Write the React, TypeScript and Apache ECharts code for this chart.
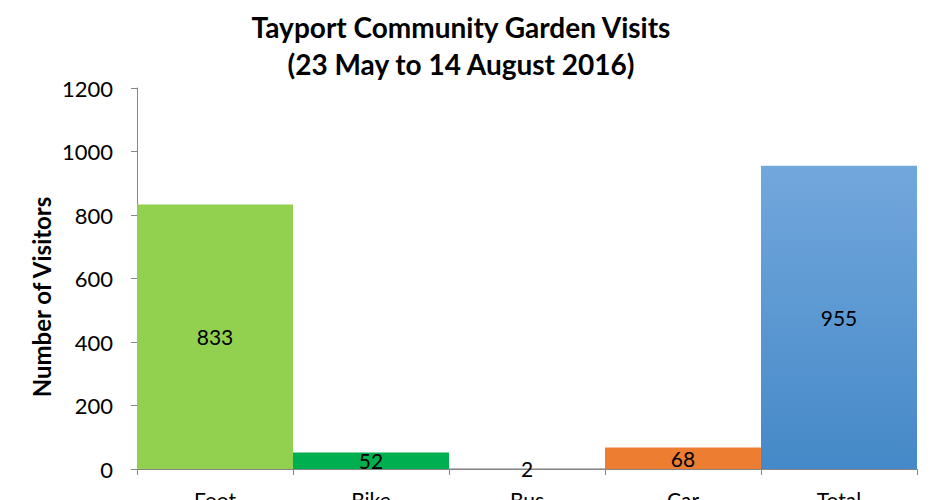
import React, { useEffect, useRef } from "react";
import * as echarts from "echarts";

const categories = ["Foot", "Bike", "Bus", "Car", "Total"];
const visitors = [833, 52, 2, 68, 955];
const yTicks = { min: 0, max: 1200, interval: 200 };
const titleLines = ["Tayport Community Garden Visits", "(23 May to 14 August 2016)"];
const yAxisTitle = "Number of Visitors";

const FONT = "Lato, 'Open Sans', sans-serif";

const barColors: any[] = [
  "#92D050",
  "#00B050",
  "#A5A5A5",
  "#ED7D31",
  new echarts.graphic.LinearGradient(0, 0, 0, 1, [
    { offset: 0, color: "#72A7DC" },
    { offset: 1, color: "#4589C8" },
  ]),
];

export default function App() {
  const ref = useRef<HTMLDivElement>(null);
  useEffect(() => {
    if (!ref.current) return;
    const chart = echarts.init(ref.current, null, { renderer: "svg" });
    chart.setOption({
      animation: false,
      backgroundColor: "#ffffff",
      title: {
        text: titleLines.join("\n"),
        left: 456,
        top: 3,
        textAlign: "center",
        textStyle: {
          fontFamily: FONT,
          fontSize: 28,
          fontWeight: "bold",
          color: "#000",
          lineHeight: 37,
        },
      },
      grid: {
        left: 137,
        right: 23,
        top: 88,
        bottom: 31,
        containLabel: false,
        outerBoundsMode: "none",
      },
      xAxis: {
        type: "category",
        data: categories,
        axisLine: { lineStyle: { color: "#868686", width: 1 } },
        axisTick: { show: true, length: 6, lineStyle: { color: "#868686" } },
        axisLabel: { fontFamily: FONT, fontSize: 21, color: "#000", margin: 20 },
      },
      yAxis: {
        type: "value",
        min: yTicks.min,
        max: yTicks.max,
        interval: yTicks.interval,
        axisLine: { show: true, lineStyle: { color: "#868686", width: 1 } },
        axisTick: { show: true, length: 6, lineStyle: { color: "#868686" } },
        splitLine: { show: false },
        axisLabel: {
          fontFamily: FONT,
          fontSize: 22,
          color: "#000",
          margin: 24,
          formatter: (v: number) => String(v),
        },
      },
      graphic: [
        {
          type: "text",
          x: 41,
          y: 297,
          rotation: Math.PI / 2,
          style: {
            text: yAxisTitle,
            fontFamily: FONT,
            fontSize: 24,
            fontWeight: "bold",
            fill: "#000",
            textAlign: "center",
            textVerticalAlign: "middle",
          },
        },
      ],
      series: [
        {
          type: "bar",
          barCategoryGap: "0%",
          data: visitors.map((v, i) => ({ value: v, itemStyle: { color: barColors[i] } })),
          label: {
            show: true,
            position: "inside",
            fontFamily: FONT,
            fontSize: 21,
            color: "#000",
          },
        },
      ],
    });
    return () => chart.dispose();
  }, []);
  return (
    <div
      ref={ref}
      style={{ position: "fixed", left: 0, top: 0, width: 940, height: 500 }}
    />
  );
}
